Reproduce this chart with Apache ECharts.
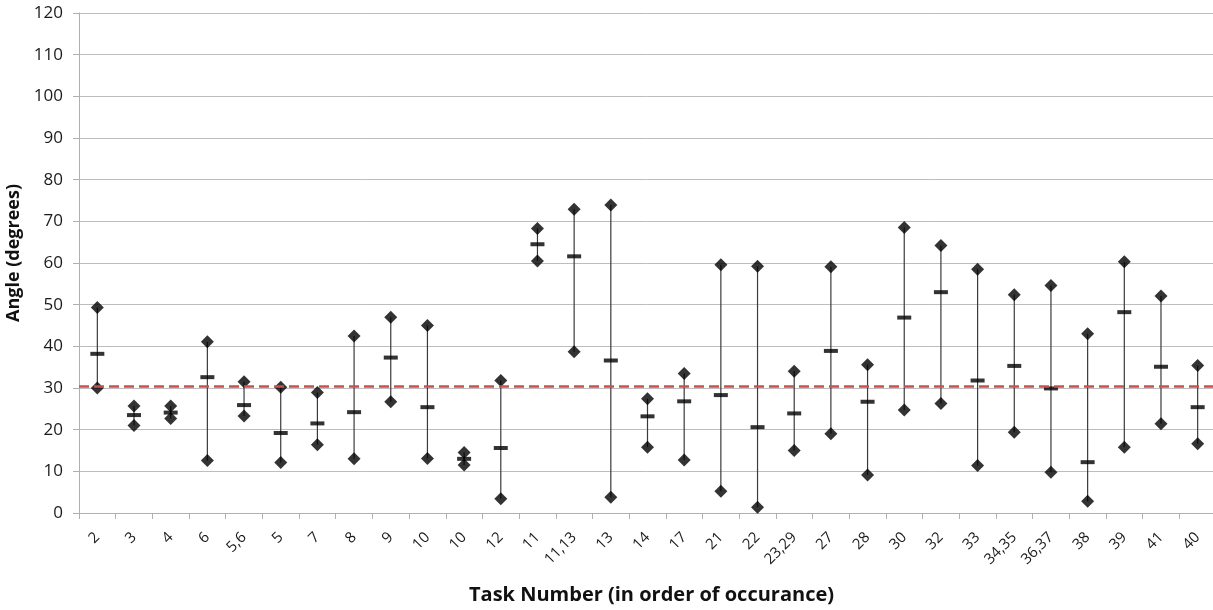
<!DOCTYPE html>
<html>
<head>
<meta charset="utf-8">
<script src="https://cdn.jsdelivr.net/npm/echarts@6/dist/echarts.min.js"></script>
<style>
html,body{margin:0;padding:0;background:#fff;}
#chart{width:1213px;height:610px;}
</style>
</head>
<body>
<div id="chart"></div>
<script>
const categories = ['2','3','4','6','5,6','5','7','8','9','10','10','12','11','11,13','13','14','17','21','22','23,29','27','28','30','32','33','34,35','36,37','38','39','41','40'];
const maxVals  = [49.3,25.7,25.7,41.1,31.5,30.2,28.9,42.5,47.0,45.0,14.5,31.8,68.3,72.9,73.9,27.4,33.5,59.6,59.2,34.0,59.1,35.6,68.5,64.2,58.5,52.4,54.6,43.0,60.3,52.1,35.4];
const meanVals = [38.2,23.5,24.1,32.6,25.9,19.2,21.5,24.2,37.3,25.4,13.0,15.6,64.5,61.6,36.6,23.2,26.8,28.3,20.6,23.9,38.9,26.7,46.9,53.0,31.8,35.3,29.9,12.2,48.2,35.1,25.4];
const minVals  = [30.0,21.0,22.7,12.6,23.3,12.1,16.4,13.0,26.7,13.1,11.5,3.4,60.5,38.7,3.8,15.8,12.7,5.2,1.4,15.0,19.0,9.1,24.7,26.3,11.4,19.4,9.8,2.8,15.8,21.4,16.6];
const referenceLine = 30.5;
const yTicks = {min:0, max:120, interval:10};

const chart = echarts.init(document.getElementById('chart'));
const font = "'Open Sans', 'DejaVu Sans', sans-serif";

chart.setOption({
  animation:false,
  backgroundColor:'#ffffff',
  grid:{left:79, top:13, width:1137, height:500, containLabel:false, outerBoundsMode:'none'},
  xAxis:{
    type:'category',
    data:categories,
    boundaryGap:true,
    name:'Task Number (in order of occurance)',
    nameLocation:'middle',
    nameGap:72,
    nameTextStyle:{fontFamily:font, fontSize:20, fontWeight:'bold', color:'#111', padding:[0,0,0,8]},
    axisLine:{lineStyle:{color:'#b0b0b0', width:1}},
    axisTick:{show:true, alignWithLabel:false, length:6, lineStyle:{color:'#b0b0b0'}},
    axisLabel:{rotate:45, fontFamily:font, fontSize:15, color:'#1a1a1a', margin:22, interval:0},
    splitLine:{show:false}
  },
  yAxis:{
    type:'value',
    min:yTicks.min, max:yTicks.max, interval:yTicks.interval,
    name:'Angle (degrees)',
    nameLocation:'middle',
    nameGap:52,
    nameTextStyle:{fontFamily:font, fontSize:18, fontWeight:'bold', color:'#111', padding:[0,0,0,20]},
    axisLine:{show:true, lineStyle:{color:'#b0b0b0'}},
    axisTick:{show:true, length:6, lineStyle:{color:'#b0b0b0'}},
    axisLabel:{fontFamily:font, fontSize:17, color:'#1a1a1a', margin:16},
    splitLine:{show:true, lineStyle:{color:'#bdbdbd', width:1}}
  },
  series:[
    {
      type:'custom',
      name:'range',
      z:1,
      data:categories.map((c,i)=>[i, maxVals[i], minVals[i]]),
      renderItem:function(params, api){
        const x = api.value(0);
        const hi = api.coord([x, api.value(1)]);
        const lo = api.coord([x, api.value(2)]);
        return {type:'line', shape:{x1:hi[0], y1:hi[1], x2:lo[0], y2:lo[1]},
                style:{stroke:'#3a3a3a', lineWidth:1.2}};
      },
      markLine:{
        silent:true,
        symbol:'none',
        label:{show:false},
        lineStyle:{color:'#c9504d', width:2.5, type:[10,5]},
        data:[{yAxis:referenceLine}]
      }
    },
    {
      type:'scatter', name:'max', z:3,
      symbol:'diamond', symbolSize:13,
      itemStyle:{color:'#000'},
      data:maxVals
    },
    {
      type:'scatter', name:'min', z:3,
      symbol:'diamond', symbolSize:13,
      itemStyle:{color:'#000'},
      data:minVals
    },
    {
      type:'scatter', name:'mean', z:4,
      symbol:'rect', symbolSize:[14,4],
      itemStyle:{color:'#000'},
      data:meanVals
    }
  ]
});
</script>
</body>
</html>
